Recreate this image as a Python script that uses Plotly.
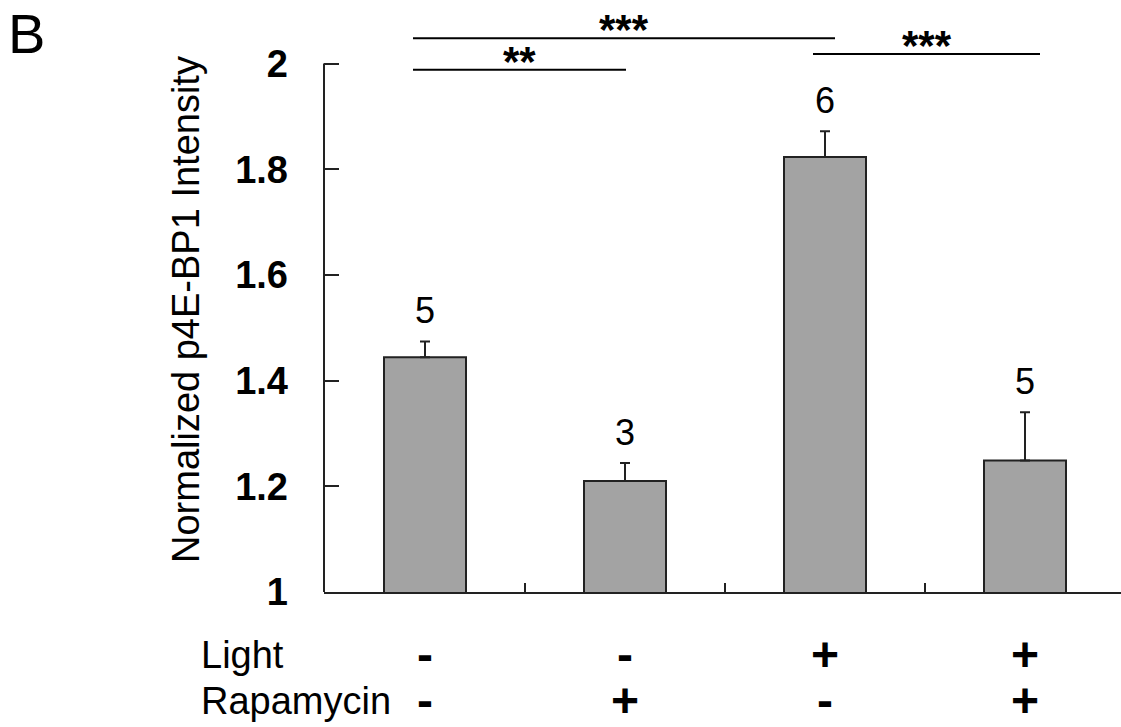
import plotly.graph_objects as go

# ---------------- data ----------------
LIGHT = ["-", "-", "+", "+"]
RAPAMYCIN = ["-", "+", "-", "+"]
MEANS = [1.444, 1.210, 1.823, 1.249]
SEM = [0.030, 0.034, 0.049, 0.091]
N_VALUES = [5, 3, 6, 5]
Y_TICKS = [1, 1.2, 1.4, 1.6, 1.8, 2]
Y_TICK_TEXT = ["1", "1.2", "1.4", "1.6", "1.8", "2"]
ROW_LABELS = ["Light", "Rapamycin"]
# significance brackets (x in category units, y in data units)
BRACKET_X0 = [-0.06, -0.06, 1.94]
BRACKET_X1 = [1.005, 2.05, 3.075]
BRACKET_Y = [1.988, 2.048, 2.018]
BRACKET_LABEL = ["**", "***", "***"]
Y_TITLE = "Normalized p4E-BP1 Intensity"
PANEL = "B"

# ---------------- layout constants ----------------
W, H = 1121, 727
ML, MR, MT, MB = 324, 0, 8, 135
PW, PH = W - ML - MR, H - MT - MB
Y_RANGE = [1, 1 + PH / 528.5]
X_RANGE = [-0.505, 3.48]
INK = "#222222"
FONT = "Liberation Sans, Arial, sans-serif"


def fx(px_img):
    """image x pixel -> paper x"""
    return (px_img - ML) / PW


def fy(py_img):
    """image y pixel -> paper y"""
    return (MT + PH - py_img) / PH


xs = list(range(len(MEANS)))

fig = go.Figure()
fig.add_trace(go.Bar(
    x=xs, y=MEANS, width=0.41,
    marker=dict(color="#a3a3a3", line=dict(color=INK, width=2)),
    error_y=dict(type="data", symmetric=False, array=SEM,
                 arrayminus=[0] * len(SEM), color=INK, thickness=2, width=5),
    showlegend=False, hoverinfo="skip",
))

annotations = []
# n labels above error bars
for x, m, s, n in zip(xs, MEANS, SEM, N_VALUES):
    annotations.append(dict(x=x, y=m + s, xref="x", yref="y", text=str(n),
                            showarrow=False, yanchor="bottom", yshift=8,
                            font=dict(family=FONT, size=36, color="black")))

shapes = []
for x0, x1, y, lab in zip(BRACKET_X0, BRACKET_X1, BRACKET_Y, BRACKET_LABEL):
    shapes.append(dict(type="line", xref="x", yref="y", x0=x0, x1=x1, y0=y, y1=y,
                       line=dict(color="black", width=2)))
    annotations.append(dict(x=(x0 + x1) / 2, y=y, xref="x", yref="y",
                            text="<b>%s</b>" % lab,
                            showarrow=False, yanchor="bottom", yshift=-17,
                            font=dict(family=FONT, size=42, color="black")))

# y axis line only from 1 to 2
shapes.append(dict(type="line", xref="paper", yref="y", x0=0, x1=0,
                   y0=Y_TICKS[0], y1=Y_TICKS[-1], line=dict(color=INK, width=2)))

# condition rows under the axis (two-line blocks, line pitch ~45 px)
block_center = 677.5
big = "<b><span style='font-size:48px'>%s</span></b>"
big_lab = "<span style='font-size:38px'>%s</span>"
annotations.append(dict(x=fx(199), y=fy(block_center), xref="paper", yref="paper",
                        text="<br>".join(big_lab % t for t in ROW_LABELS),
                        showarrow=False, xanchor="left", yanchor="middle", align="left",
                        font=dict(family=FONT, size=35, color="black")))
for x, a, b in zip(xs, LIGHT, RAPAMYCIN):
    annotations.append(dict(x=x, y=fy(block_center), xref="x", yref="paper",
                            text=(big % a) + "<br>" + (big % b),
                            showarrow=False, xanchor="center", yanchor="middle",
                            font=dict(family=FONT, size=35, color="black")))

# y title
annotations.append(dict(x=fx(186), y=fy(310), xref="paper",
                        yref="paper", text=Y_TITLE, textangle=-90, showarrow=False,
                        xanchor="center", yanchor="middle",
                        font=dict(family=FONT, size=38, color="black")))
# panel letter
annotations.append(dict(x=fx(6), y=fy(0), xref="paper", yref="paper",
                        text=PANEL, showarrow=False, xanchor="left", yanchor="top",
                        font=dict(family=FONT, size=56, color="black")))

fig.update_layout(
    width=W, height=H, margin=dict(l=ML, r=MR, t=MT, b=MB, autoexpand=False),
    plot_bgcolor="white", paper_bgcolor="white",
    shapes=shapes, annotations=annotations,
    xaxis=dict(range=X_RANGE, showline=True, linecolor=INK, linewidth=2,
               tickmode="array", tickvals=[0.5, 1.5, 2.5], ticks="inside",
               ticklen=9, tickwidth=2, tickcolor=INK, showticklabels=False,
               showgrid=False, zeroline=False, fixedrange=True),
    yaxis=dict(range=Y_RANGE, showline=False, tickmode="array", tickvals=Y_TICKS,
               ticktext=["<b>%s</b>" % t for t in Y_TICK_TEXT], ticks="inside",
               ticklen=15, tickwidth=2, tickcolor=INK, ticklabelstandoff=35,
               tickfont=dict(family=FONT, size=38, color="black"),
               showgrid=False, zeroline=False, fixedrange=True),
    font=dict(family=FONT),
)

fig.write_html(
    "out.html",
    config={"displayModeBar": False},
    post_script="document.body.style.margin='0';document.body.style.overflow='hidden';",
)
